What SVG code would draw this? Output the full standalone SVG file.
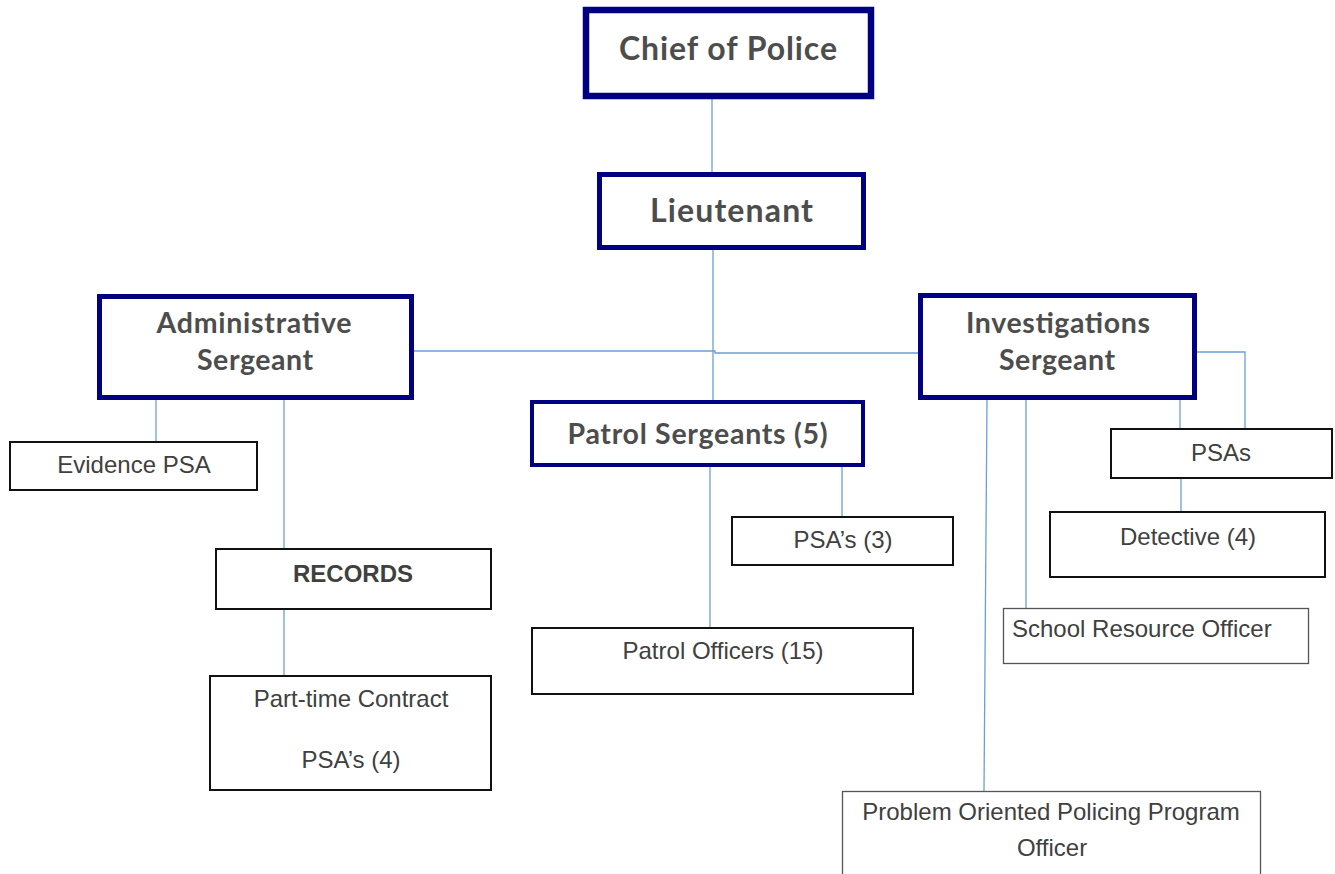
<svg xmlns="http://www.w3.org/2000/svg" width="1335" height="874" viewBox="0 0 1335 874">
<style>
.lead{fill:#fff;stroke:#000080}
.box{fill:#fff;stroke:#111;stroke-width:2}
.thin{fill:#fff;stroke:#555;stroke-width:1.3}
.h{font-family:Lato,"Open Sans",sans-serif;font-weight:bold;fill:#4d4d4d;text-anchor:middle}
.t{font-family:"Liberation Sans",Arial,sans-serif;font-size:24px;fill:#404040;text-anchor:middle}
.conn line,.conn polyline{stroke:#6a9fd8;stroke-width:1.3;fill:none}
</style>
<rect width="1335" height="874" fill="#fff"/>
<g class="conn" id="connectors">
<line x1="712" y1="99" x2="712" y2="172"/>
<line x1="713" y1="250" x2="713" y2="400"/>
<polyline points="414,351 715,351 715,353 918,353"/>
<polyline points="1197,352 1245,352 1245,428"/>
<line x1="1180" y1="400" x2="1180" y2="428"/>
<line x1="1181" y1="479" x2="1181" y2="511"/>
<line x1="1026" y1="400" x2="1026" y2="608"/>
<line x1="987" y1="400" x2="984" y2="791"/>
<line x1="156" y1="400" x2="156" y2="441"/>
<line x1="284" y1="398" x2="284" y2="548"/>
<line x1="284" y1="610" x2="284" y2="675"/>
<line x1="842" y1="467" x2="842" y2="516"/>
<line x1="710" y1="467" x2="710" y2="627"/>
</g>
<g id="chief">
<rect class="lead" x="586" y="10" width="285" height="86" stroke-width="6.5"/>
<text class="h" x="728" y="60" font-size="32" textLength="218">Chief of Police</text>
</g>
<g id="lieutenant">
<rect class="lead" x="599.5" y="174.5" width="264" height="73" stroke-width="5"/>
<text class="h" x="731.5" y="222" font-size="32" textLength="163">Lieutenant</text>
</g>
<g id="admin-sergeant">
<rect class="lead" x="99.5" y="296.5" width="312" height="101" stroke-width="5"/>
<text class="h" x="254" y="333" font-size="28.5" textLength="195">Administrative</text>
<text class="h" x="255" y="370" font-size="28.5" textLength="116">Sergeant</text>
</g>
<g id="investigations-sergeant">
<rect class="lead" x="920.5" y="295.5" width="274" height="102" stroke-width="5"/>
<text class="h" x="1058" y="333" font-size="28.5" textLength="184">Investigations</text>
<text class="h" x="1057" y="370" font-size="28.5" textLength="116">Sergeant</text>
</g>
<g id="patrol-sergeants">
<rect class="lead" x="532" y="402" width="331" height="63" stroke-width="4"/>
<text class="h" x="697.5" y="444" font-size="28.5" textLength="260">Patrol Sergeants (5)</text>
</g>
<g id="evidence-psa">
<rect class="box" x="10" y="442" width="247" height="48"/>
<text class="t" x="134" y="473">Evidence PSA</text>
</g>
<g id="records">
<rect class="box" x="216" y="549" width="275" height="60"/>
<text class="t" x="353" y="582" font-weight="bold">RECORDS</text>
</g>
<g id="part-time">
<rect class="box" x="210" y="676" width="281" height="114"/>
<text class="t" x="351" y="707">Part-time Contract</text>
<text class="t" x="351" y="768">PSA’s (4)</text>
</g>
<g id="psas-3">
<rect class="box" x="732" y="517" width="221" height="48"/>
<text class="t" x="843" y="548">PSA’s (3)</text>
</g>
<g id="patrol-officers">
<rect class="box" x="532" y="628" width="381" height="66"/>
<text class="t" x="723" y="659">Patrol Officers (15)</text>
</g>
<g id="psas">
<rect class="box" x="1111" y="429" width="221" height="49"/>
<text class="t" x="1221" y="461">PSAs</text>
</g>
<g id="detective">
<rect class="box" x="1050" y="512" width="275" height="65"/>
<text class="t" x="1188" y="545">Detective (4)</text>
</g>
<g id="sro">
<rect class="thin" x="1003.5" y="608.5" width="305" height="55"/>
<text class="t" x="1012" y="637" style="text-anchor:start">School Resource Officer</text>
</g>
<g id="pop">
<rect class="thin" x="842.5" y="791.5" width="418" height="100"/>
<text class="t" x="1051" y="820">Problem Oriented Policing Program</text>
<text class="t" x="1052" y="856">Officer</text>
</g>
</svg>
